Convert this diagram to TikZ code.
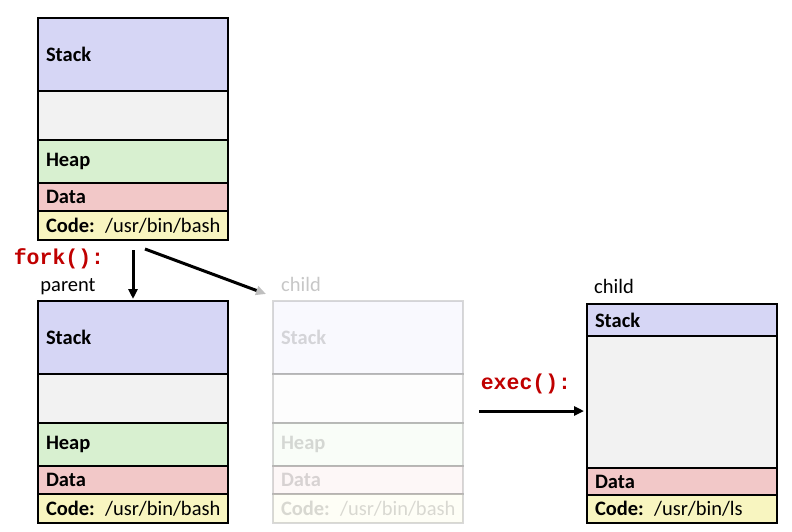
\documentclass[tikz,border=0pt]{standalone}
\usepackage{fontspec}
\setmainfont{Carlito}
\newfontfamily\codefont{Liberation Mono}
\usetikzlibrary{positioning,arrows.meta}

\definecolor{stackcol}{RGB}{214,214,245}
\definecolor{gapcol}{RGB}{242,242,242}
\definecolor{heapcol}{RGB}{216,240,208}
\definecolor{datacol}{RGB}{242,200,200}
\definecolor{codecol}{RGB}{248,245,192}
\definecolor{fncol}{RGB}{192,0,0}

\newcommand{\codeline}[1]{\mbox{Code: \mdseries #1}}

\tikzset{
  seg/.style={draw, line width=2pt, minimum width=190pt, text width=174pt,
    align=left, inner xsep=8pt, inner ysep=0pt, outer sep=0pt,
    font=\fontsize{20.5}{24}\selectfont\bfseries},
  lbl/.style={font=\fontsize{20.5}{24}\selectfont},
  fn/.style={font=\codefont\fontsize{21.5}{24}\selectfont\bfseries, text=fncol},
  arr/.style={line width=3pt, -{Triangle[length=10pt,width=9pt]}}
}

\begin{document}
\begin{tikzpicture}[x=1pt,y=-1pt]
\useasboundingbox (0,0) rectangle (792,532);

% parent, before fork
\node [seg, fill=stackcol, minimum height=73pt, anchor=north west] (pstack) at (38,18) {Stack};
\node [seg, fill=gapcol, minimum height=49pt, below=0pt of pstack] (pgap) {};
\node [seg, fill=heapcol, minimum height=43pt, below=0pt of pgap] (pheap) {Heap};
\node [seg, fill=datacol, minimum height=28pt, below=0pt of pheap] (pdata) {Data};
\node [seg, fill=codecol, minimum height=29pt, below=0pt of pdata] (pcode) {\codeline{/usr/bin/bash}};

% parent, after fork
\node [seg, fill=stackcol, minimum height=73pt, anchor=north west] (kstack) at (38,301) {Stack};
\node [seg, fill=gapcol, minimum height=49pt, below=0pt of kstack] (kgap) {};
\node [seg, fill=heapcol, minimum height=43pt, below=0pt of kgap] (kheap) {Heap};
\node [seg, fill=datacol, minimum height=28pt, below=0pt of kheap] (kdata) {Data};
\node [seg, fill=codecol, minimum height=29pt, below=0pt of kdata] (kcode) {\codeline{/usr/bin/bash}};

% child copy (faded)
\begin{scope}[opacity=0.15]
\node [seg, fill=stackcol, minimum height=73pt, anchor=north west] (cstack) at (273,301) {Stack};
\node [seg, fill=gapcol, minimum height=49pt, below=0pt of cstack] (cgap) {};
\node [seg, fill=heapcol, minimum height=43pt, below=0pt of cgap] (cheap) {Heap};
\node [seg, fill=datacol, minimum height=28pt, below=0pt of cheap] (cdata) {Data};
\node [seg, fill=codecol, minimum height=29pt, below=0pt of cdata] (ccode) {\codeline{/usr/bin/bash}};
\end{scope}
\node [lbl, text=black!22] (clabel) at (301,284) {child};

% child after exec
\node [seg, fill=stackcol, minimum height=32pt, anchor=north west] (rstack) at (587,304) {Stack};
\node [seg, fill=gapcol, minimum height=132pt, below=0pt of rstack] (rgap) {};
\node [seg, fill=datacol, minimum height=27pt, below=0pt of rgap] (rdata) {Data};
\node [seg, fill=codecol, minimum height=28pt, below=0pt of rdata] (rcode) {\codeline{/usr/bin/ls}};

\node [lbl] (plabel) at (68,287) {parent};
\node [lbl] (rlabel) at (614,286) {child};
\node [fn] (fork) at (59,259) {fork():};
\node [fn] (exec) at (526,384) {exec():};

% arrows
\coordinate (execstart) at (479,411);
\draw [arr] ([yshift=-10pt]pcode.south) -- ([yshift=2pt]kstack.north);
\draw [line width=3pt, -{Triangle[length=10pt,width=9pt,color=black!25]}]
  ([xshift=12pt,yshift=-9pt]pcode.south) -- ([xshift=-7pt,yshift=7pt]cstack.north west);
\draw [arr, shorten >=3pt] (execstart) -- (execstart -| rgap.west);

\end{tikzpicture}
\end{document}
